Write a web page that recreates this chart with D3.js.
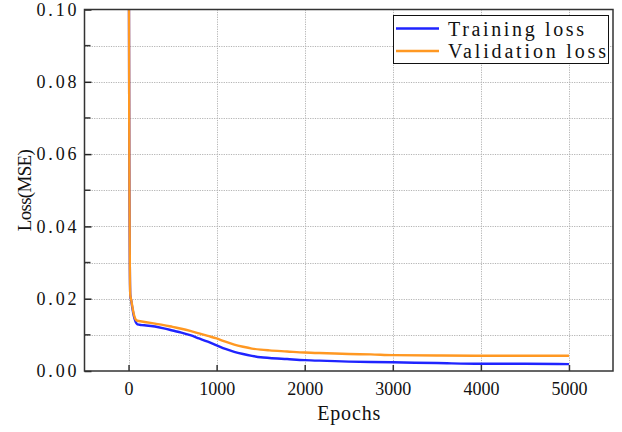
<!DOCTYPE html>
<html>
<head>
<meta charset="utf-8">
<script src="https://cdn.jsdelivr.net/npm/d3@7"></script>
<style>
  body { margin: 0; background: #fff; }
  text { font-family: "Liberation Serif", "Times New Roman", serif; fill: #111; }
</style>
</head>
<body>
<svg id="chart" width="622" height="432"></svg>
<script>
// values
const epochs = [0, 5, 10, 15, 20, 30, 45, 60, 80, 100, 150, 200, 300, 400, 500, 600, 700, 800, 900,
  1000, 1100, 1200, 1300, 1400, 1500, 1600, 1800, 2000, 2250, 2500, 2750, 3000, 3500, 4000, 4500, 5000]
const trainLoss = [0.25, 0.10, 0.05, 0.028, 0.021, 0.0195, 0.0172, 0.0152, 0.0136, 0.0129, 0.0127, 0.0126,
  0.0123, 0.0118, 0.0112, 0.0106, 0.0099, 0.0090, 0.0081, 0.0071, 0.0061, 0.0053, 0.0047, 0.0042, 0.0038,
  0.0036, 0.0033, 0.0030, 0.0028, 0.0026, 0.0025, 0.0024, 0.0022, 0.0020, 0.0020, 0.0019]
const valLoss = [0.25, 0.10, 0.05, 0.028, 0.021, 0.0197, 0.0176, 0.0157, 0.0143, 0.0139, 0.0137, 0.0135,
  0.0131, 0.0127, 0.0122, 0.0117, 0.0111, 0.0104, 0.0097, 0.0090, 0.0081, 0.0073, 0.0067, 0.0062, 0.0059,
  0.0057, 0.0054, 0.0051, 0.0049, 0.0047, 0.0046, 0.0044, 0.0043, 0.0042, 0.0042, 0.0042]
const xTicks = [0, 1000, 2000, 3000, 4000, 5000]
const yTicks = [0.00, 0.02, 0.04, 0.06, 0.08, 0.10]
const yMinorTicks = [0.01, 0.03, 0.05, 0.07, 0.09]
const seriesNames = ["Training loss", "Validation loss"]
const seriesColours = ["#1f24ff", "#ff9822"]

const svg = d3.select("#chart")
const pLeft = 84.5, pRight = 613, pTop = 9.5, pBottom = 371

const x = d3.scaleLinear().domain([-500, 5500]).range([pLeft, pRight])
const y = d3.scaleLinear().domain([0, 0.1]).range([pBottom, pTop])

// grid lines (dotted)
const grid = svg.append("g").attr("stroke", "#b4b4b4").attr("stroke-width", 1).attr("stroke-dasharray", "1.2,1.2")
grid.selectAll("line.h").data(yTicks.concat(yMinorTicks).filter(d => d > 0 && d < 0.1))
  .join("line").attr("class", "h")
  .attr("x1", pLeft).attr("x2", pRight)
  .attr("y1", d => Math.round(y(d)) + 0.5).attr("y2", d => Math.round(y(d)) + 0.5)
grid.selectAll("line.v").data(xTicks)
  .join("line").attr("class", "v")
  .attr("y1", pTop).attr("y2", pBottom)
  .attr("x1", d => Math.round(x(d)) + 0.5).attr("x2", d => Math.round(x(d)) + 0.5)

// lines, clipped to plot area
svg.append("clipPath").attr("id", "clip")
  .append("rect").attr("x", pLeft).attr("y", pTop).attr("width", pRight - pLeft).attr("height", pBottom - pTop)

const line = d3.line().x(d => x(d[0])).y(d => y(d[1])).curve(d3.curveMonotoneX)
const series = [trainLoss, valLoss]
series.forEach(function (vals, i) {
  svg.append("path")
    .datum(epochs.map((e, j) => [e, vals[j]]))
    .attr("clip-path", "url(#clip)")
    .attr("fill", "none")
    .attr("stroke", seriesColours[i])
    .attr("stroke-width", 2.4)
    .attr("stroke-linejoin", "round")
    .attr("d", line)
})

// axes: ticks point inward
const xAxis = svg.append("g").attr("transform", `translate(0,${pBottom})`)
  .call(d3.axisBottom(x).tickValues(xTicks).tickSizeInner(-6).tickSizeOuter(0).tickPadding(11).tickFormat(d3.format("d")))
xAxis.select(".domain").remove()
xAxis.selectAll("line").attr("stroke", "#333").attr("stroke-width", 1.5)
xAxis.selectAll("text").attr("font-size", 18).attr("font-family", "Liberation Serif").attr("fill", "#111")

const yAxis = svg.append("g").attr("transform", `translate(${pLeft},0)`)
  .call(d3.axisLeft(y).tickValues(yTicks).tickSizeInner(-7).tickSizeOuter(0).tickPadding(8).tickFormat(d3.format(".2f")))
yAxis.select(".domain").remove()
yAxis.selectAll("line").attr("stroke", "#222").attr("stroke-width", 1.5)
yAxis.selectAll("text").attr("font-size", 18).attr("font-family", "Liberation Serif").attr("fill", "#111")
  .attr("textLength", 40).attr("lengthAdjust", "spacing")

svg.append("g").selectAll("line").data(yMinorTicks).join("line")
  .attr("x1", pLeft).attr("x2", pLeft + 6)
  .attr("y1", d => y(d)).attr("y2", d => y(d))
  .attr("stroke", "#333").attr("stroke-width", 1.5)

// frame
svg.append("rect").attr("x", pLeft).attr("y", pTop).attr("width", pRight - pLeft).attr("height", pBottom - pTop)
  .attr("fill", "none").attr("stroke", "#333").attr("stroke-width", 1.5)

// axis titles
svg.append("text").attr("x", (pLeft + pRight) / 2).attr("y", 420).attr("text-anchor", "middle")
  .attr("font-size", 20).attr("textLength", 63).attr("lengthAdjust", "spacing").text("Epochs")
svg.append("text").attr("transform", `translate(31,${(pTop + pBottom) / 2}) rotate(-90)`)
  .attr("text-anchor", "middle").attr("font-size", 19).attr("textLength", 82).attr("lengthAdjust", "spacing")
  .text("Loss(MSE)")

// legend
const legend = svg.append("g")
legend.append("rect").attr("x", 393.5).attr("y", 15.5).attr("width", 215).attr("height", 48)
  .attr("fill", "#fff").attr("stroke", "#111").attr("stroke-width", 1)
const legendWidths = [136, 158]
seriesNames.forEach(function (name, i) {
  const ly = 28.5 + i * 22.5
  legend.append("line").attr("x1", 396).attr("x2", 439).attr("y1", ly).attr("y2", ly)
    .attr("stroke", seriesColours[i]).attr("stroke-width", 2.4)
  legend.append("text").attr("x", 448).attr("y", ly + 7).attr("font-size", 20)
    .attr("textLength", legendWidths[i]).attr("lengthAdjust", "spacing").text(name)
})
</script>
</body>
</html>
